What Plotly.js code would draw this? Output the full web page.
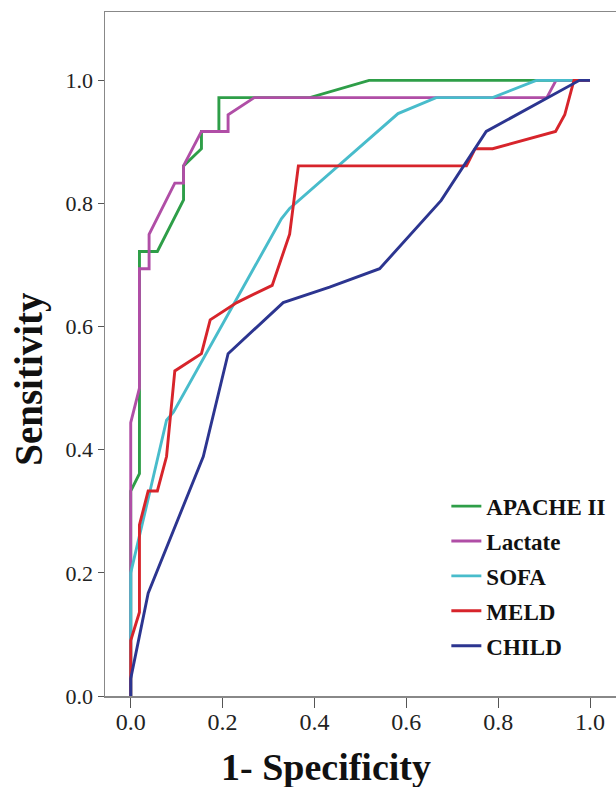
<!DOCTYPE html>
<html>
<head>
<meta charset="utf-8">
<script src="https://cdn.plot.ly/plotly-3.0.1.min.js"></script>
<style>html,body{margin:0;padding:0;background:#fff;}#chart{width:616px;height:787px;}</style>
</head>
<body>
<div id="chart"></div>
<script>
// ROC curve data (1 - specificity, sensitivity)
const seriesNames = ["APACHE II", "Lactate", "SOFA", "MELD", "CHILD"];
const seriesColors = ["#2e9e48", "#b04ea6", "#48bccb", "#d7242b", "#2c3590"];

const apacheX = [0, 0, 0.019, 0.019, 0.058, 0.115, 0.115, 0.154, 0.154, 0.192, 0.192, 0.39, 0.519, 1];
const apacheY = [0, 0.333, 0.361, 0.722, 0.722, 0.806, 0.861, 0.889, 0.917, 0.917, 0.972, 0.972, 1, 1];

const lactateX = [0, 0, 0.019, 0.019, 0.040, 0.040, 0.096, 0.115, 0.115, 0.154, 0.212, 0.212, 0.269, 0.906, 0.926, 1];
const lactateY = [0, 0.444, 0.5, 0.694, 0.694, 0.75, 0.833, 0.833, 0.861, 0.917, 0.917, 0.944, 0.972, 0.972, 1, 1];

const sofaX = [0, 0, 0.042, 0.078, 0.093, 0.328, 0.346, 0.582, 0.665, 0.788, 0.883, 1];
const sofaY = [0, 0.2, 0.333, 0.448, 0.461, 0.775, 0.792, 0.946, 0.972, 0.972, 1, 1];

const meldX = [0, 0, 0.019, 0.019, 0.038, 0.058, 0.078, 0.096, 0.154, 0.173, 0.231, 0.308, 0.346, 0.365, 0.731, 0.75, 0.788, 0.925, 0.945, 0.965, 1];
const meldY = [0, 0.09, 0.136, 0.278, 0.333, 0.333, 0.389, 0.528, 0.556, 0.611, 0.639, 0.667, 0.75, 0.861, 0.861, 0.889, 0.889, 0.917, 0.944, 1, 1];

const childX = [0, 0, 0.038, 0.158, 0.212, 0.332, 0.433, 0.542, 0.676, 0.774, 0.977, 1];
const childY = [0, 0.028, 0.167, 0.389, 0.556, 0.639, 0.664, 0.694, 0.805, 0.917, 1, 1];

const xTickVals = [0, 0.2, 0.4, 0.6, 0.8, 1.0];
const xTickText = ["0.0", "0.2", "0.4", "0.6", "0.8", "1.0"];
const yTickVals = [0, 0.2, 0.4, 0.6, 0.8, 1.0];
const yTickText = ["0.0", "0.2", "0.4", "0.6", "0.8", "1.0"];

const xs = [apacheX, lactateX, sofaX, meldX, childX];
const ys = [apacheY, lactateY, sofaY, meldY, childY];

const serif = "Liberation Serif, Times New Roman, serif";

const traces = seriesNames.map((name, i) => ({
  type: "scatter",
  mode: "lines",
  name: name,
  legendgroup: "g" + i,
  x: xs[i],
  y: ys[i],
  line: {color: seriesColors[i], width: 2.9},
  hoverinfo: "skip"
}));

const layout = {
  width: 616,
  height: 787,
  margin: {l: 105, r: 0, t: 12, b: 91},
  paper_bgcolor: "#ffffff",
  plot_bgcolor: "#ffffff",
  showlegend: true,
  legend: {
    x: 0.668, xanchor: "left",
    y: 0.309, yanchor: "top",
    bgcolor: "rgba(0,0,0,0)",
    borderwidth: 0,
    tracegroupgap: 2,
    font: {family: serif, size: 23, color: "#111", weight: "bold"}
  },
  xaxis: {
    range: [-0.056, 1.0566],
    tickvals: xTickVals,
    ticktext: xTickText,
    ticks: "outside",
    ticklen: 10,
    tickwidth: 1,
    tickcolor: "#555",
    ticklabelstandoff: -6,
    showline: true,
    linecolor: "#888888",
    linewidth: 1.5,
    mirror: true,
    showgrid: false,
    zeroline: false,
    tickfont: {family: serif, size: 24, color: "#222"}
  },
  yaxis: {
    range: [0, 1.111],
    tickvals: yTickVals,
    ticktext: yTickText,
    ticks: "outside",
    ticklen: 6,
    tickwidth: 1,
    tickcolor: "#555",
    showline: true,
    linecolor: "#888888",
    linewidth: 1.5,
    mirror: false,
    showgrid: false,
    zeroline: false,
    tickfont: {family: serif, size: 22, color: "#222"}
  },
  annotations: [
    {
      text: "1- Specificity",
      xref: "paper", yref: "paper",
      x: 0.432, y: 0, xanchor: "center", yanchor: "middle",
      yshift: -71,
      showarrow: false,
      font: {family: serif, size: 38, color: "#111", weight: "bold"}
    },
    {
      text: "Sensitivity",
      xref: "paper", yref: "paper",
      x: 0, y: 0.4638, xanchor: "center", yanchor: "middle",
      xshift: -76,
      textangle: -90,
      showarrow: false,
      font: {family: serif, size: 39, color: "#111", weight: "bold"}
    }
  ]
};

Plotly.newPlot("chart", traces, layout, {displayModeBar: false, staticPlot: true});
</script>
</body>
</html>
